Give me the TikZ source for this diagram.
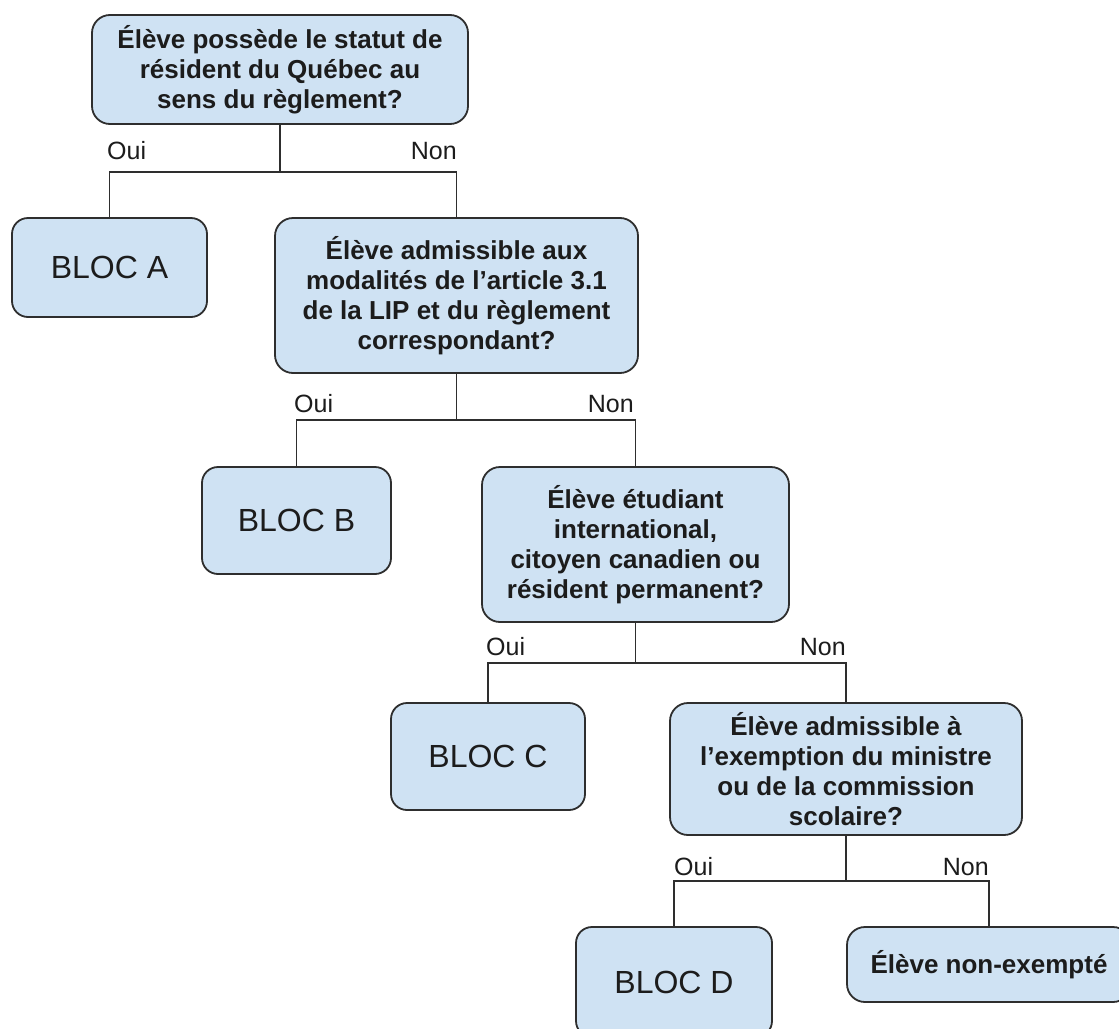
\documentclass[tikz,border=0pt]{standalone}
\usepackage{fontspec}
\setmainfont{Liberation Sans}
\definecolor{boxfill}{HTML}{CFE2F3}
\definecolor{edge}{HTML}{2E2E2E}
\definecolor{ink}{HTML}{1C1C1C}
\tikzset{
  qbox/.style={draw=edge, fill=boxfill, line width=1.8pt, rounded corners=18pt,
    align=center, inner sep=0pt, text=ink,
    font=\bfseries\fontsize{26}{30}\selectfont},
  blocbox/.style={draw=edge, fill=boxfill, line width=1.8pt, rounded corners=16pt,
    align=center, inner sep=0pt, text=ink,
    font=\fontsize{32}{36}\selectfont},
  conn/.style={draw=edge, line width=1.9pt},
  lbl/.style={inner sep=0pt, text=ink, font=\fontsize{25}{28}\selectfont}
}
\begin{document}
\begin{tikzpicture}[x=1pt,y=-1pt]
\useasboundingbox (0,0) rectangle (1119,1028);
\fill[white] (0,0) rectangle (1119,1028);
\clip (0,0) rectangle (1119,1028);

% boxes
\node[qbox, minimum width=376pt, minimum height=109pt] (q1) at (280,69.5)
  {Élève possède le statut de\\résident du Québec au\\sens du règlement?};
\node[blocbox, minimum width=195pt, minimum height=99pt] (a) at (109.5,267.5) {BLOC A};
\node[qbox, minimum width=363pt, minimum height=155pt] (q2) at (456.5,295.5)
  {Élève admissible aux\\modalités de l’article 3.1\\de la LIP et du règlement\\correspondant?};
\node[blocbox, minimum width=189pt, minimum height=107pt] (b) at (296.5,520.5) {BLOC B};
\node[qbox, minimum width=307pt, minimum height=155pt] (q3) at (635.5,544.5)
  {Élève étudiant\\international,\\citoyen canadien ou\\résident permanent?};
\node[blocbox, minimum width=194pt, minimum height=107pt] (c) at (488,756.5) {BLOC C};
\node[qbox, minimum width=352pt, minimum height=132pt] (q4) at (846,769)
  {Élève admissible à\\l’exemption du ministre\\ou de la commission\\scolaire?};
\node[blocbox, minimum width=196pt, minimum height=110pt] (d) at (674,982) {BLOC D};
\node[qbox, minimum width=284pt, minimum height=75pt] (ne) at (989,964.5) {Élève non-exempté};

% junctions
\coordinate (j1) at (280,172);
\coordinate (j2) at (456.5,420);
\coordinate (j3) at (635.5,663);
\coordinate (j4) at (846,881);

% connectors
\draw[conn] (q1.south) -- (j1);
\draw[conn] (a.north) |- (j1) -| (q2.north);
\draw[conn] (q2.south) -- (j2);
\draw[conn] (b.north) |- (j2) -| (q3.north);
\draw[conn] (q3.south) -- (j3);
\draw[conn] (c.north) |- (j3) -| (q4.north);
\draw[conn] (q4.south) -- (j4);
\draw[conn] (d.north) |- (j4) -| (ne.north);

% labels
\node[lbl, anchor=base west] (o1) at (107,159) {Oui};
\node[lbl, anchor=base east] (n1) at (457,159) {Non};
\node[lbl, anchor=base west] (o2) at (294,412) {Oui};
\node[lbl, anchor=base east] (n2) at (634,412) {Non};
\node[lbl, anchor=base west] (o3) at (486,655) {Oui};
\node[lbl, anchor=base east] (n3) at (846,655) {Non};
\node[lbl, anchor=base west] (o4) at (674,875) {Oui};
\node[lbl, anchor=base east] (n4) at (989,875) {Non};
\end{tikzpicture}
\end{document}
